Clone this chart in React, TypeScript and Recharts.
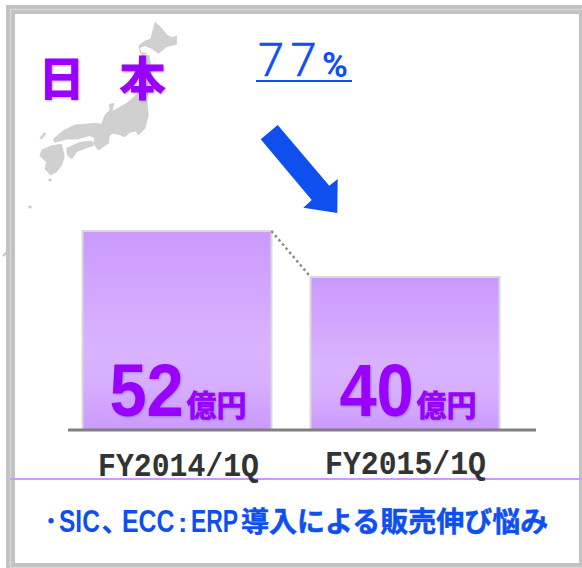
import { BarChart, Bar, XAxis, YAxis, ReferenceLine } from 'recharts';

const periods = ['FY2014/1Q', 'FY2015/1Q'];
const sales = [52, 40];
const unit = '億円';
const regionName = ['日', '本'];
const changeLabel = '77';
const noteLatin = ['SIC', 'ECC', 'ERP'];
const noteBody = '導入による販売伸び悩み';

const chartData = periods.map((period, i) => ({ period, sales: sales[i] }));

const BLUE = '#0f4ff0';
const PURPLE = '#9900ff';
const BAR_STEP = 228;
const labelShadow = { filter: 'drop-shadow(1.5px 1.5px 1px rgba(90,90,90,0.45))' };

// 棒 + 次の棒へ向かう点線
function BarWithConnector(props: any) {
  const { x, y, width, height, index } = props;
  const next = sales[index + 1];
  return (
    <g>
      <rect x={x} y={y} width={width} height={height} fill="url(#barFill)" stroke="#d9d9d9" strokeWidth={2} />
      {next !== undefined && (
        <line
          x1={x + width}
          y1={y}
          x2={x + BAR_STEP}
          y2={y + height * (1 - next / sales[index])}
          stroke="#8a8a8a"
          strokeWidth={2.5}
          strokeDasharray="2.5 3"
        />
      )}
    </g>
  );
}

function ValueLabel(props: any) {
  const { x, y, height, value, index } = props;
  const left = x + [27, 29][index];
  const bottom = y + height;
  return (
    <g fill={PURPLE} fontWeight={700} style={labelShadow}>
      <text transform={`translate(${left} ${bottom - 14}) scale(0.89 1)`} fontFamily="Liberation Sans" fontSize={75}>
        {value}
      </text>
      <text
        x={left + 77}
        y={bottom - 14}
        fontFamily="Noto Sans CJK JP"
        fontSize={30}
        stroke={PURPLE}
        strokeWidth={0.6}
      >
        {unit}
      </text>
    </g>
  );
}

function PeriodTick(props: any) {
  const { x, y, payload, index } = props;
  return (
    <text
      x={x + [2, 1][index]}
      y={y + [38, 36][index]}
      textAnchor="middle"
      fill="#333333"
      fontFamily="Liberation Mono"
      fontWeight={700}
      fontSize={34}
      textLength={161}
      lengthAdjust="spacingAndGlyphs"
    >
      {payload.value}
    </text>
  );
}

export default function App() {
  return (
    <div style={{ position: 'absolute', left: 0, top: 0, width: 582, height: 568, background: '#fff', overflow: 'hidden' }}>
      <svg width={582} height={568} style={{ position: 'absolute', left: 0, top: 0 }}>
        {/* 枠 */}
        <rect x={10.5} y={9.5} width={573} height={558} fill="none" stroke="#c2c2c2" strokeWidth={9} />
        <rect x={10.5} y={9.5} width={573} height={558} fill="none" stroke="#d6d6d6" strokeWidth={1.5} />
        <line x1={3} y1={256} x2={10} y2={249} stroke="#c2c2c2" strokeWidth={2} />
        <line x1={10} y1={479} x2={582} y2={479} stroke="#cc99ff" strokeWidth={2} />

        {/* 日本地図 */}
        <g transform="translate(30 15) scale(0.3333)" fill="#d0d0d0" stroke="#c8c8c8" strokeWidth={2}>
          <path d="M375 22 L395 40 L410 60 L428 68 L440 62 L440 88 L410 95 L385 115 L365 100 L345 92 L328 98 L330 112 L350 116 L335 118 L326 92 L345 78 L362 72 Z" />
          <path d="M335 120 L358 122 L363 160 L362 205 L350 250 L355 300 L345 340 L325 360 L318 348 L300 352 L285 365 L265 358 L248 355 L238 362 L235 385 L205 405 L190 385 L195 370 L180 362 L140 372 L110 372 L75 382 L70 372 L100 347 L135 330 L195 325 L215 328 L225 300 L240 285 L238 268 L252 265 L246 290 L290 265 L325 235 L330 190 L325 140 Z" />
          <path d="M110 400 L150 382 L185 378 L190 392 L165 400 L140 410 L125 432 L112 420 Z" />
          <path d="M35 405 L65 392 L95 388 L103 425 L95 450 L80 470 L62 480 L45 462 L50 442 L30 422 Z" />
          <path d="M30 368 L44 352 L47 358 L35 372 Z" />
          <circle cx={60} cy={495} r={4} />
          <circle cx={0} cy={576} r={4} />
        </g>

        <g fill={PURPLE} stroke={PURPLE} strokeWidth={1} fontFamily="Noto Sans CJK JP" fontWeight={700} fontSize={46} textAnchor="middle" style={labelShadow}>
          <text x={61.5} y={95}>{regionName[0]}</text>
          <text x={142.5} y={95}>{regionName[1]}</text>
        </g>

        <text x={258} y={76} fill={BLUE} stroke={BLUE} strokeWidth={0.6} fontFamily="Roboto" fontWeight={300} fontSize={47} letterSpacing={6.5}>{changeLabel}</text>
        <text x={322} y={77} fill={BLUE} fontFamily="Roboto" fontWeight={700} fontSize={35}>%</text>
        <line x1={256} y1={81} x2={352} y2={81} stroke={BLUE} strokeWidth={2} />

        <polygon points="277.7,125 260.7,139.3 311.7,200 303.3,207.7 337.3,213 337.7,179 329.3,185.7" fill={BLUE} />

        {/* 下の注記 */}
        <g fill={BLUE} fontWeight={700} fontSize={31} fontFamily="Liberation Sans">
          <text x={44} y={532} fontFamily="Noto Sans CJK JP" fontSize={28}>･</text>
          <text transform="translate(59 532) scale(0.79 1)">{noteLatin[0]}</text>
          <text x={102} y={532} fontFamily="Noto Sans CJK JP" fontSize={28}>､</text>
          <text transform="translate(122 532) scale(0.8 1)">{noteLatin[1]}</text>
          <text x={178} y={532} fontSize={28}>:</text>
          <text transform="translate(191 532) scale(0.74 1)">{noteLatin[2]}</text>
          <text x={241} y={532} fontFamily="Noto Sans CJK JP" fontSize={28} stroke={BLUE} strokeWidth={0.5}>{noteBody}</text>
        </g>
      </svg>

      <BarChart
        width={582}
        height={568}
        data={chartData}
        margin={{ top: 231, right: 46, bottom: 0, left: 68 }}
        style={{ position: 'absolute', left: 0, top: 0 }}
      >
        <defs>
          <linearGradient id="barFill" x1="0" y1="0" x2="0" y2="1">
            <stop offset="0" stopColor="#cb99ff" />
            <stop offset="0.6" stopColor="#d9b3ff" />
            <stop offset="0.78" stopColor="#d6adff" />
            <stop offset="1" stopColor="#cb99ff" />
          </linearGradient>
        </defs>
        <XAxis
          dataKey="period"
          height={138}
          padding={{ left: -5.5, right: 17.5 }}
          tickLine={false}
          axisLine={false}
          tick={<PeriodTick />}
          interval={0}
        />
        <YAxis hide domain={[0, 52]} />
        <Bar
          dataKey="sales"
          barSize={189}
          isAnimationActive={false}
          shape={<BarWithConnector />}
          label={<ValueLabel />}
        />
        <ReferenceLine y={0} stroke="#808080" strokeWidth={3} />
      </BarChart>
    </div>
  );
}
